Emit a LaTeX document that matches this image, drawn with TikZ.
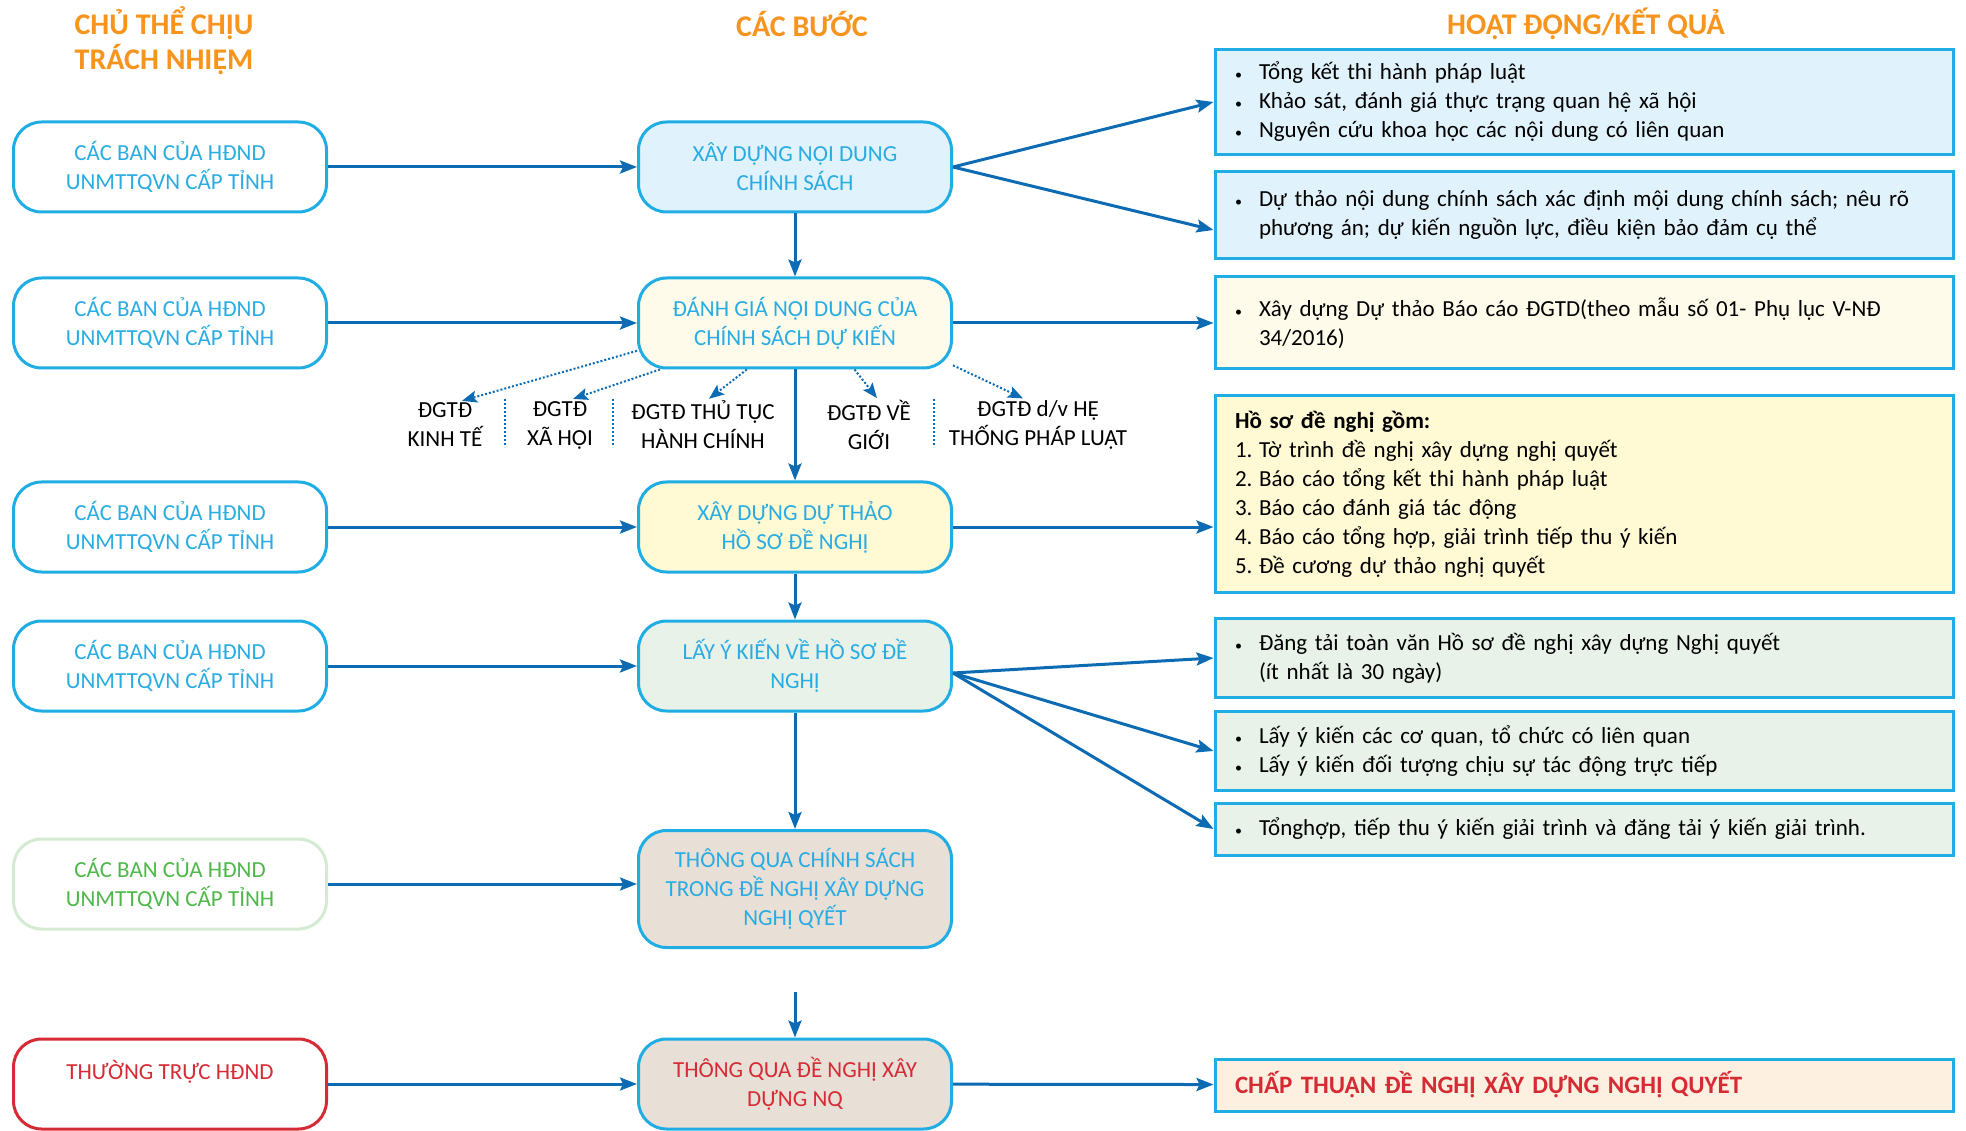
\documentclass[tikz,border=0pt]{standalone}
\usepackage{fontspec}
\setmainfont{Carlito}
\usetikzlibrary{arrows.meta}
\definecolor{cyanline}{HTML}{1FADE4}
\definecolor{cyantext}{HTML}{2AACE2}
\definecolor{arrowblue}{HTML}{0C6BB3}
\definecolor{headorange}{HTML}{F7941D}
\definecolor{fillblue}{HTML}{E0F2FB}
\definecolor{fillcream}{HTML}{FEFBEA}
\definecolor{fillyellow}{HTML}{FFF9D4}
\definecolor{fillgreen}{HTML}{E8F2E9}
\definecolor{fillbeige}{HTML}{E8DFD7}
\definecolor{fillpeach}{HTML}{FEF0E1}
\definecolor{redtext}{HTML}{D52B35}
\definecolor{greenline}{HTML}{D5EAD2}
\definecolor{greentext}{HTML}{4DB849}
\newcommand{\boxfont}{\fontsize{23}{29}\selectfont}
\newcommand{\headfont}{\fontsize{30}{35}\selectfont\bfseries}
\newcommand{\bul}{\makebox[24pt][l]{\fontsize{14}{14}\selectfont•}}
\newcommand{\num}[1]{\makebox[24pt][l]{#1.}}
\begin{document}
\begin{tikzpicture}[x=1pt,y=-1pt,
	roundbox/.style={draw=cyanline,line width=3pt,rounded corners=28pt,minimum width=313pt,minimum height=90pt,
		align=center,text=cyantext,font=\boxfont,inner sep=2pt},
	listbox/.style={draw=cyanline,line width=3pt,minimum width=738pt,text width=698pt,inner xsep=20pt,
		align=left,font=\boxfont},
	flow/.style={draw=arrowblue,line width=3pt,-{Stealth[length=17pt,width=13pt,inset=3pt]}},
	dotflow/.style={draw=arrowblue,line width=2pt,dotted,-{Stealth[length=15pt,width=12pt,inset=3pt]}},
	kind/.style={align=center,font=\boxfont,inner sep=2pt}]
	\useasboundingbox (0,0) rectangle (1966,1131);
	% headers
	\node[text=headorange,font=\headfont,align=center] (h1) at (164,41) {CHỦ THỂ CHỊU\\TRÁCH NHIỆM};
	\node[text=headorange,font=\headfont] (h2) at (802,24) {CÁC BƯỚC};
	\node[text=headorange,font=\headfont] (h3) at (1586,24) {HOẠT ĐỘNG/KẾT QUẢ};
	% left column
	\foreach \i/\y in {1/167,2/323,3/527,4/666}
		\node[roundbox] (l\i) at (170,\y) {CÁC BAN CỦA HĐND\\UNMTTQVN CẤP TỈNH};
	\node[roundbox,draw=greenline,text=greentext] (l5) at (170,884) {CÁC BAN CỦA HĐND\\UNMTTQVN CẤP TỈNH};
	\node[roundbox,draw=redtext,text=redtext] (l6) at (170,1084) {THƯỜNG TRỰC HĐND\\\mbox{}};
	% steps
	\node[roundbox,fill=fillblue] (m1) at (795,167) {XÂY DỰNG NỘI DUNG\\CHÍNH SÁCH};
	\node[roundbox,fill=fillcream] (m2) at (795,323) {ĐÁNH GIÁ NỘI DUNG CỦA\\CHÍNH SÁCH DỰ KIẾN};
	\node[roundbox,fill=fillyellow] (m3) at (795,527) {XÂY DỰNG DỰ THẢO\\HỒ SƠ ĐỀ NGHỊ};
	\node[roundbox,fill=fillgreen] (m4) at (795,666) {LẤY Ý KIẾN VỀ HỒ SƠ ĐỀ\\NGHỊ};
	\node[roundbox,fill=fillbeige,minimum height=117pt] (m5) at (795,889) {THÔNG QUA CHÍNH SÁCH\\TRONG ĐỀ NGHỊ XÂY DỰNG\\NGHỊ QYẾT};
	\node[roundbox,fill=fillbeige,text=redtext] (m6) at (795,1084) {THÔNG QUA ĐỀ NGHỊ XÂY\\DỰNG NQ};
	% kinds of assessment
	\node[kind] (k1) at (445,425) {ĐGTĐ\\KINH TẾ};
	\node[kind] (k2) at (560,425) {ĐGTĐ\\XÃ HỘI};
	\node[kind] (k3) at (703,425) {ĐGTĐ THỦ TỤC\\HÀNH CHÍNH};
	\node[kind] (k4) at (869,425) {ĐGTĐ VỀ\\GIỚI};
	\node[kind] (k5) at (1038,425) {ĐGTĐ d/v HỆ\\THỐNG PHÁP LUẬT};
	\draw[arrowblue,line width=2pt,dotted] (505,399) -- (505,447);
	\draw[arrowblue,line width=2pt,dotted] (613,399) -- (613,447);
	\draw[arrowblue,line width=2pt,dotted] (934,399) -- (934,447);
	% results
	\node[listbox,fill=fillblue,minimum height=105pt] (r1) at (1584,102)
		{\bul Tổng kết thi hành pháp luật\\\bul Khảo sát, đánh giá thực trạng quan hệ xã hội\\\bul Nguyên cứu khoa học các nội dung có liên quan};
	\node[listbox,fill=fillblue,minimum height=87pt] (r2) at (1584,215)
		{\bul Dự thảo nội dung chính sách xác định mội dung chính sách; nêu rõ\\\hspace*{24pt}phương án; dự kiến nguồn lực, điều kiện bảo đảm cụ thể};
	\node[listbox,fill=fillcream,minimum height=92pt] (r3) at (1584,323)
		{\bul Xây dựng Dự thảo Báo cáo ĐGTD(theo mẫu số 01- Phụ lục V-NĐ\\\hspace*{24pt}34/2016)};
	\node[listbox,fill=fillyellow,minimum height=196pt] (r4) at (1584,494)
		{\textbf{Hồ sơ đề nghị gồm:}\\\num{1}Tờ trình đề nghị xây dựng nghị quyết\\\num{2}Báo cáo tổng kết thi hành pháp luật\\
		\num{3}Báo cáo đánh giá tác động\\\num{4}Báo cáo tổng hợp, giải trình tiếp thu ý kiến\\\num{5}Đề cương dự thảo nghị quyết};
	\node[listbox,fill=fillgreen,minimum height=79pt] (r5) at (1584,658)
		{\bul Đăng tải toàn văn Hồ sơ đề nghị xây dựng Nghị quyết\\\hspace*{24pt}(ít nhất là 30 ngày)};
	\node[listbox,fill=fillgreen,minimum height=79pt] (r6) at (1584,751)
		{\bul Lấy ý kiến các cơ quan, tổ chức có liên quan\\\bul Lấy ý kiến đối tượng chịu sự tác động trực tiếp};
	\node[listbox,fill=fillgreen,minimum height=52pt] (r7) at (1584,829)
		{\bul Tổnghợp, tiếp thu ý kiến giải trình và đăng tải ý kiến giải trình.};
	\node[listbox,fill=fillpeach,minimum height=52pt,text=redtext,font=\fontsize{25}{29}\selectfont\bfseries] (r8) at (1584,1085)
		{CHẤP THUẬN ĐỀ NGHỊ XÂY DỰNG NGHỊ QUYẾT};
	% connectors
	\foreach \i in {1,...,4,6}
		\draw[flow] (l\i) -- (m\i);
	\draw[flow] (l5) -- (l5 -| m5.west);
	\draw[flow] (m1) -- (m2);
	\draw[flow] (m2) -- (m3);
	\draw[flow] (m3) -- (m4);
	\draw[flow] (m4) -- (m5);
	\coordinate (m6in) at (795,992);
	\draw[flow] (m6in) -- (m6);
	\draw[flow] (m1.east) -- (r1.west);
	\draw[flow] (m1.east) -- ([yshift=-15pt]r2.west);
	\draw[flow] (m2) -- (r3);
	\draw[flow] (m3.east) -- (m3.east -| r4.west);
	\coordinate (m4out) at ([yshift=-7pt]m4.east);
	\draw[flow] (m4out) -- (r5.west);
	\draw[flow] (m4out) -- (r6.west);
	\draw[flow] (m4out) -- (r7.west);
	\draw[flow] (m6) -- (r8);
	\draw[dotflow] (m2.190) -- ([xshift=17pt]k1.north);
	\draw[dotflow] (m2.199) -- ([xshift=13pt]k2.north);
	\draw[dotflow] (m2.224) -- ([xshift=6pt]k3.north);
	\draw[dotflow] (m2.322) -- ([xshift=8pt]k4.north);
	\draw[dotflow] (m2.345) -- ([xshift=-15pt]k5.north);
\end{tikzpicture}
\end{document}
